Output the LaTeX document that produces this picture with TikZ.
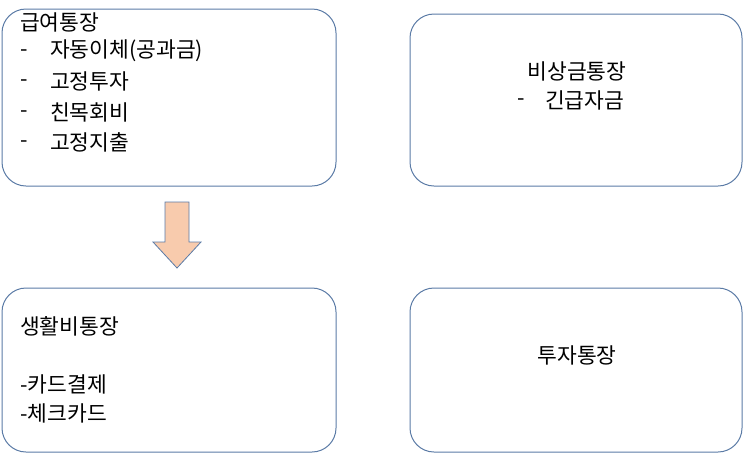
\documentclass[tikz,border=0pt]{standalone}
\usepackage{fontspec}
\setmainfont{Noto Sans CJK KR}
\begin{document}
\begin{tikzpicture}[x=1pt,y=-1pt,
  box/.style={draw=bordc,line width=1pt,rounded corners=24pt},
  txt/.style={anchor=west,inner sep=0pt,font=\fontsize{21.5}{23}\selectfont}]
\definecolor{bordc}{HTML}{5B7BA6}
\definecolor{arrf}{HTML}{F8CBAD}
\useasboundingbox (0,0) rectangle (743,453);
\draw[box] (2,9) rectangle (336,186) coordinate (b1);
\draw[box] (410,14) rectangle (742,186) coordinate (b2);
\draw[box] (2,288) rectangle (336,452) coordinate (b3);
\draw[box] (410,288) rectangle (742,452) coordinate (b4);
\node[txt] (t1) at (20,22) {급여통장};
\node[txt] (d1) at (20,53) {-};\node[txt] (t2) at (50,51) {자동이체(공과금)};
\node[txt] (d2) at (20,83) {-};\node[txt] (t3) at (50,81) {고정투자};
\node[txt] (d3) at (20,114) {-};\node[txt] (t4) at (50,112) {친목회비};
\node[txt] (d4) at (20,144) {-};\node[txt] (t5) at (50,142) {고정지출};
\node[txt,anchor=center] (u1) at (577,71) {비상금통장};
\node[txt] (d5) at (517,102) {-};\node[txt] (u2) at (545,100) {긴급자금};
\node[txt] (v1) at (20,326) {생활비통장};
\node[txt] (v2) at (20,384) {-카드결제};
\node[txt] (v3) at (20,413) {-체크카드};
\node[txt,anchor=center] (w1) at (577,355) {투자통장};
\draw[draw=bordc,fill=arrf,line width=0.8pt] (165,202) -- (189,202) -- (189,242) -- (201,242) -- (177,268) -- (153,242) -- (165,242) -- cycle;
\end{tikzpicture}
\end{document}
